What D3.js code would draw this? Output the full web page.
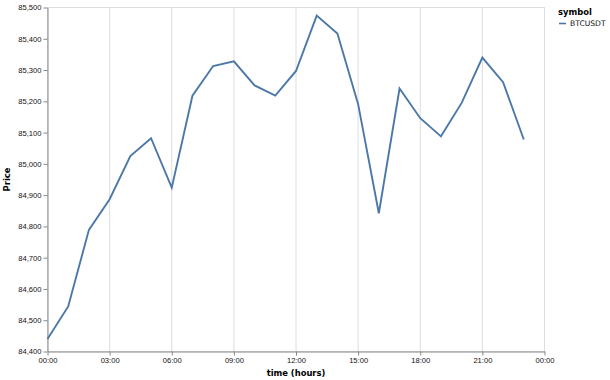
<!DOCTYPE html>
<html>
<head>
  <script src="https://d3js.org/d3.v7.min.js"></script>
  <style>
    body { margin: 0; background: #fff; }
    svg { font-family: "DejaVu Sans", sans-serif; }
  </style>
</head>
<body>
  <div id="chart"></div>
  <script>
    // hourly BTCUSDT close prices
    var hours = [0, 1, 2, 3, 4, 5, 6, 7, 8, 9, 10, 11, 12, 13, 14, 15, 16, 17, 18, 19, 20, 21, 22, 23];
    var prices = [84440, 84544, 84789, 84887, 85025, 85082, 84924, 85218, 85313, 85328, 85251, 85218,
                  85297, 85474, 85417, 85191, 84842, 85241, 85146, 85088, 85195, 85340, 85261, 85078];
    var symbols = ['BTCUSDT'];
    var xTickHours = [0, 3, 6, 9, 12, 15, 18, 21, 24];
    var yTicks = [84400, 84500, 84600, 84700, 84800, 84900, 85000, 85100, 85200, 85300, 85400, 85500];

    var margin = { top: 7.5, left: 47.5 };
    var width = 497, height = 344;
    var labelSize = '7.6px', titleSize = '8.4px';

    var day = new Date(2025, 0, 1);
    var toDate = function(h) { return d3.timeHour.offset(day, h); };
    var data = hours.map(function(h, i) { return { t: toDate(h), price: prices[i] }; });

    var svg = d3.select('#chart').append('svg')
      .attr('width', 610)
      .attr('height', 380);

    var g = svg.append('g')
      .attr('transform', 'translate(' + margin.left + ',' + margin.top + ')');

    var x = d3.scaleTime()
      .domain([toDate(0), toDate(24)])
      .range([0, width]);

    var y = d3.scaleLinear()
      .domain([84400, 85500])
      .range([height, 0]);

    // view border
    g.append('rect')
      .attr('width', width)
      .attr('height', height)
      .attr('fill', 'none')
      .attr('stroke', '#ddd');

    // vertical grid
    g.append('g')
      .selectAll('line')
      .data(xTickHours)
      .enter()
      .append('line')
      .attr('x1', function(h) { return x(toDate(h)); })
      .attr('x2', function(h) { return x(toDate(h)); })
      .attr('y1', 0)
      .attr('y2', height)
      .attr('stroke', '#ddd');

    var xAxis = g.append('g')
      .attr('transform', 'translate(0,' + height + ')')
      .call(d3.axisBottom(x)
        .tickValues(xTickHours.map(toDate))
        .tickFormat(d3.timeFormat('%H:%M'))
        .tickSize(4)
        .tickSizeOuter(0)
        .tickPadding(2));

    var yAxis = g.append('g')
      .call(d3.axisLeft(y)
        .tickValues(yTicks)
        .tickFormat(d3.format(','))
        .tickSize(4)
        .tickSizeOuter(0)
        .tickPadding(2));

    [xAxis, yAxis].forEach(function(a) {
      a.select('.domain').attr('stroke', '#888');
      a.selectAll('.tick line').attr('stroke', '#888');
      a.selectAll('.tick text').attr('fill', '#111').style('font-size', labelSize);
    });

    g.append('path')
      .datum(data)
      .attr('fill', 'none')
      .attr('stroke', '#4c78a8')
      .attr('stroke-width', 1.9)
      .attr('d', d3.line()
        .x(function(d) { return x(d.t); })
        .y(function(d) { return y(d.price); }));

    g.append('text')
      .attr('x', width / 2)
      .attr('y', height + 24)
      .attr('text-anchor', 'middle')
      .style('font-size', titleSize)
      .style('font-weight', 'bold')
      .text('time (hours)');

    g.append('text')
      .attr('transform', 'rotate(-90)')
      .attr('x', -height / 2)
      .attr('y', -38)
      .attr('text-anchor', 'middle')
      .style('font-size', titleSize)
      .style('font-weight', 'bold')
      .text('Price');

    // legend
    var legend = svg.append('g')
      .attr('transform', 'translate(558,0)');

    legend.append('text')
      .attr('x', 0)
      .attr('y', 15)
      .style('font-size', titleSize)
      .style('font-weight', 'bold')
      .text('symbol');

    var items = legend.selectAll('.item')
      .data(symbols)
      .enter()
      .append('g')
      .attr('class', 'item')
      .attr('transform', function(d, i) { return 'translate(0,' + (23.5 + i * 12) + ')'; });

    items.append('line')
      .attr('x1', 1)
      .attr('x2', 8)
      .attr('stroke', '#4c78a8')
      .attr('stroke-width', 1.6);

    items.append('text')
      .attr('x', 12)
      .attr('dy', '0.35em')
      .attr('fill', '#111')
      .style('font-size', labelSize)
      .text(function(d) { return d; });
  </script>
</body>
</html>
